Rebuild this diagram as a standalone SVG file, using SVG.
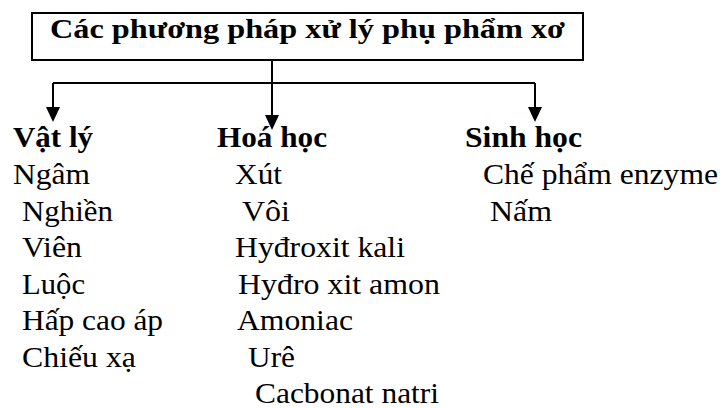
<svg xmlns="http://www.w3.org/2000/svg" width="722" height="408" viewBox="0 0 722 408">
  <style>
    .bg { fill: #ffffff; }
    .box { fill: #ffffff; stroke: #000000; stroke-width: 2; }
    .conn { fill: none; stroke: #000000; stroke-width: 2; }
    text { font-family: 'Liberation Serif', Tinos, 'Times New Roman', Times, 'DejaVu Serif', serif; fill: #000000; }
    .title { font-size: 27px; font-weight: bold; }
    .head { font-size: 29px; font-weight: bold; }
    .item { font-size: 29px; }
  </style>
  <defs>
    <marker id="arrow" viewBox="0 0 15 14" refX="11" refY="7" markerWidth="15" markerHeight="14" markerUnits="userSpaceOnUse" orient="auto">
      <path d="M0,0 L15,7 L0,14 z" fill="#000000"/>
    </marker>
  </defs>

  <rect class="bg" x="0" y="0" width="722" height="408"/>

  <!-- root box -->
  <g id="root">
    <rect class="box" x="32" y="13" width="551" height="47"/>
    <text class="title" x="50" y="37.5" textLength="515" lengthAdjust="spacingAndGlyphs">Các phương pháp xử lý phụ phẩm xơ</text>
  </g>

  <!-- connectors -->
  <g id="connectors">
    <path class="conn" d="M272 60 V126" marker-end="url(#arrow)"/>
    <path class="conn" d="M53 83 H535"/>
    <path class="conn" d="M53 83 V118" marker-end="url(#arrow)"/>
    <path class="conn" d="M535 83 V118" marker-end="url(#arrow)"/>
  </g>

  <!-- physical methods -->
  <g id="vat-ly">
    <text class="head" x="13" y="147" textLength="80" lengthAdjust="spacingAndGlyphs">Vật lý</text>
    <text class="item" x="13" y="184" textLength="77" lengthAdjust="spacingAndGlyphs">Ngâm</text>
    <text class="item" x="22" y="220.5" textLength="91" lengthAdjust="spacingAndGlyphs">Nghiền</text>
    <text class="item" x="22" y="257" textLength="60" lengthAdjust="spacingAndGlyphs">Viên</text>
    <text class="item" x="22" y="293.5" textLength="63" lengthAdjust="spacingAndGlyphs">Luộc</text>
    <text class="item" x="22" y="330" textLength="141" lengthAdjust="spacingAndGlyphs">Hấp cao áp</text>
    <text class="item" x="22" y="366.5" textLength="114" lengthAdjust="spacingAndGlyphs">Chiếu xạ</text>
  </g>

  <!-- chemical methods -->
  <g id="hoa-hoc">
    <text class="head" x="217" y="147" textLength="110" lengthAdjust="spacingAndGlyphs">Hoá học</text>
    <text class="item" x="235" y="184" textLength="47" lengthAdjust="spacingAndGlyphs">Xút</text>
    <text class="item" x="242" y="220.5" textLength="48" lengthAdjust="spacingAndGlyphs">Vôi</text>
    <text class="item" x="235" y="257" textLength="170" lengthAdjust="spacingAndGlyphs">Hyđroxit kali</text>
    <text class="item" x="238" y="293.5" textLength="202" lengthAdjust="spacingAndGlyphs">Hyđro xit amon</text>
    <text class="item" x="237" y="330" textLength="116" lengthAdjust="spacingAndGlyphs">Amoniac</text>
    <text class="item" x="248" y="366.5" textLength="47" lengthAdjust="spacingAndGlyphs">Urê</text>
    <text class="item" x="255" y="403" textLength="184" lengthAdjust="spacingAndGlyphs">Cacbonat natri</text>
  </g>

  <!-- biological methods -->
  <g id="sinh-hoc">
    <text class="head" x="465" y="147" textLength="117" lengthAdjust="spacingAndGlyphs">Sinh học</text>
    <text class="item" x="483" y="184" textLength="235" lengthAdjust="spacingAndGlyphs">Chế phẩm enzyme</text>
    <text class="item" x="490" y="220.5" textLength="62" lengthAdjust="spacingAndGlyphs">Nấm</text>
  </g>
</svg>
